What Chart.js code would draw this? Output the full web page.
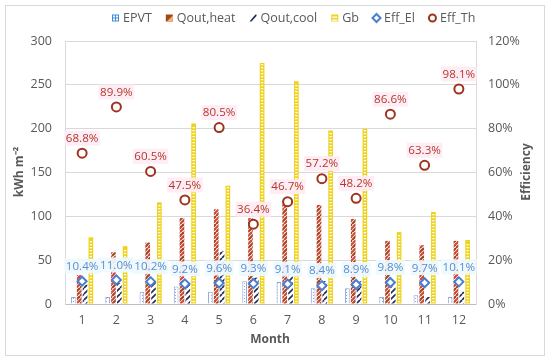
<!DOCTYPE html>
<html><head><meta charset="utf-8">
<script src="https://cdn.jsdelivr.net/npm/chart.js@4/dist/chart.umd.min.js"></script>
<style>html,body{margin:0;padding:0;background:#fff}#wrap{width:550px;height:361px}</style>
</head><body><div id="wrap"><canvas id="c" width="550" height="361"></canvas></div>
<script>
const months = ['1','2','3','4','5','6','7','8','9','10','11','12'];
const epvt = [8, 8, 14, 20, 14, 26, 25, 18, 18, 8, 10, 8];
const qoutHeat = [33, 59, 70, 98, 108, 98, 118, 113, 97, 72, 67, 72];
const qoutCool = [22, 24, 26, 26, 60, 30, 34, 26, 26, 20, 8, 14];
const gb = [76, 66, 116, 206, 135, 275, 254, 198, 200, 82, 105, 73];
const effEl = [10.4, 11.0, 10.2, 9.2, 9.6, 9.3, 9.1, 8.4, 8.9, 9.8, 9.7, 10.1];
const effTh = [68.8, 89.9, 60.5, 47.5, 80.5, 36.4, 46.7, 57.2, 48.2, 86.6, 63.3, 98.1];
const leftTicks = [0, 50, 100, 150, 200, 250, 300];
const rightTicks = [0, 20, 40, 60, 80, 100, 120];

const FONT = "'Open Sans', sans-serif";
const GRAY = '#595959';

function makePattern(w, h, draw) {
  const c = document.createElement('canvas'); c.width = w; c.height = h;
  const g = c.getContext('2d'); draw(g); return g.createPattern(c, 'repeat');
}
const epvtPat = makePattern(3, 3, g => { g.fillStyle = '#fff'; g.fillRect(0,0,3,3); g.fillStyle = '#8EA9DB'; g.fillRect(1,1,1,1); });
const heatPat = makePattern(8, 8, g => {
  g.fillStyle = '#fff'; g.fillRect(0,0,8,8); g.lineWidth = 2.2;
  [[-8,'#9C4A1A'],[0,'#9C4A1A'],[8,'#9C4A1A'],[-4,'#D8403A'],[4,'#D8403A'],[12,'#D8403A']].forEach(([o,col]) => {
    g.strokeStyle = col; g.beginPath(); g.moveTo(o, 8); g.lineTo(o + 8, 0); g.stroke();
  });
});
const coolPat = makePattern(6, 6, g => {
  g.fillStyle = '#fff'; g.fillRect(0,0,6,6); g.lineWidth = 1.6; g.strokeStyle = '#1F2A5C';
  [-6,0,6].forEach(o => { g.beginPath(); g.moveTo(o, 6); g.lineTo(o + 6, 0); g.stroke(); });
});

const data = {
  labels: months,
  datasets: [
    { type:'line', label:'Eff_El', data: effEl, yAxisID:'y2', showLine:false, order:0,
      pointStyle:'rectRot', pointRadius:4.5, pointHoverRadius:4.5, pointBorderWidth:2,
      pointBorderColor:'#4A7FD0', pointBackgroundColor:'#fff', borderColor:'#4A7FD0', backgroundColor:'#fff' },
    { type:'line', label:'Eff_Th', data: effTh, yAxisID:'y2', showLine:false, order:0,
      pointStyle:'circle', pointRadius:4.5, pointHoverRadius:4.5, pointBorderWidth:2,
      pointBorderColor:'#9E3420', pointBackgroundColor:'#fff', borderColor:'#9E3420', backgroundColor:'#fff' },
    { type:'bar', label:'EPVT', data: epvt, yAxisID:'y', order:1, backgroundColor: epvtPat, borderColor:'#8FA3DC', borderWidth:1 },
    { type:'bar', label:'Qout,heat', data: qoutHeat, yAxisID:'y', order:1, backgroundColor: heatPat, borderColor:'#C0504D', borderWidth:0 },
    { type:'bar', label:'Qout,cool', data: qoutCool, yAxisID:'y', order:1, backgroundColor: coolPat, borderColor:'#1F2A5C', borderWidth:0 },
    { type:'bar', label:'Gb', data: gb, yAxisID:'y', order:1, backgroundColor:'#EFD31A', borderWidth:0 }
  ]
};

const PAD = {left: 8, right: 8, top: 41, bottom: 10};
const PLOT_L = 65, PLOT_R = 476, PLOT_B = 304;

const decor = {
  id: 'decor',
  beforeDraw(chart) {
    const c = chart.ctx; c.save();
    c.fillStyle = '#fff'; c.fillRect(0,0,chart.width,chart.height);
    c.strokeStyle = '#D9D9D9'; c.lineWidth = 1; c.strokeRect(5.5, 5.5, 539, 350);
    c.restore();
  },
  afterDatasetsDraw(chart) {
    const c = chart.ctx; c.save();
    const gbIdx = chart.data.datasets.findIndex(d => d.label === 'Gb');
    chart.getDatasetMeta(gbIdx).data.forEach(el => {
      const w = el.width, x0 = el.x - w/2;
      c.fillStyle = '#fff';
      for (let y = el.base - 2.5; y > el.y + 1; y -= 3) c.fillRect(x0 + 1.2, y, w - 2.4, 1.3);
    });
    c.font = "11.6px " + FONT; c.textAlign = 'center'; c.textBaseline = 'middle';
    [['Eff_El', '#5B8BD3', 'rgba(238,250,255,0.92)'], ['Eff_Th', '#B2382C', 'rgba(255,236,244,0.92)']].forEach(([lab, col, bg]) => {
      const i = chart.data.datasets.findIndex(d => d.label === lab);
      const ds = chart.data.datasets[i];
      chart.getDatasetMeta(i).data.forEach((pt, j) => {
        const txt = ds.data[j].toFixed(1) + '%';
        const w = c.measureText(txt).width;
        const y = pt.y - 15;
        c.fillStyle = bg; c.fillRect(pt.x - w/2 - 1.5, y - 7.5, w + 3, 15);
        c.fillStyle = col; c.fillText(txt, pt.x, y + 0.5);
      });
    });
    c.restore();
  },
  afterDraw(chart) {
    const c = chart.ctx; c.save();
    c.fillStyle = GRAY; c.font = "bold 12px " + FONT; c.textAlign = 'center'; c.textBaseline = 'middle';
    c.fillText('Month', 270, 340);
    c.save(); c.translate(20, 172); c.rotate(-Math.PI/2); c.fillText('kWh m\u207B\u00B2', 0, 0); c.restore();
    c.save(); c.translate(527, 172); c.rotate(-Math.PI/2); c.fillText('Efficiency', 0, 0); c.restore();
    c.font = "12.5px " + FONT; c.textBaseline = 'middle'; c.textAlign = 'left';
    const items = [
      ['EPVT', 'epvt'], ['Qout,heat', 'heat'], ['Qout,cool', 'cool'], ['Gb', 'gb'], ['Eff_El', 'el'], ['Eff_Th', 'th']
    ];
    let x = 112; const ly = 18;
    items.forEach(([t, k]) => {
      if (k === 'epvt') { c.fillStyle = '#3C8DD8'; c.fillRect(x, ly-3.5, 7, 7); c.fillStyle='#fff'; c.fillRect(x+1,ly-2.5,2,2); c.fillRect(x+4,ly-2.5,2,2); c.fillRect(x+1,ly+0.5,2,2); c.fillRect(x+4,ly+0.5,2,2); }
      else if (k === 'heat') { c.fillStyle = '#9C4A1A'; c.fillRect(x, ly-3.5, 7, 7); c.fillStyle='#F4B183'; c.beginPath(); c.moveTo(x+1,ly+3.5); c.lineTo(x+7,ly-2.5); c.lineTo(x+7,ly+3.5); c.fill(); }
      else if (k === 'cool') { c.fillStyle = '#fff'; c.fillRect(x, ly-3.5, 7, 7); c.fillStyle='#1F2A5C'; c.beginPath(); c.moveTo(x,ly+3.5); c.lineTo(x+6,ly-3.5); c.lineTo(x+7,ly-3.5); c.lineTo(x+7,ly-2); c.lineTo(x+2,ly+3.5); c.fill(); }
      else if (k === 'gb') { c.fillStyle = '#EFD31A'; c.fillRect(x, ly-3.5, 7, 7); c.fillStyle='#fff'; c.fillRect(x+1, ly-1.5, 5, 1.3); c.fillRect(x+1, ly+1.5, 5, 1.3); }
      else if (k === 'el') { c.strokeStyle = '#4A7FD0'; c.lineWidth = 2; c.beginPath(); c.moveTo(x+3.5,ly-4); c.lineTo(x+7.5,ly); c.lineTo(x+3.5,ly+4); c.lineTo(x-0.5,ly); c.closePath(); c.stroke(); }
      else if (k === 'th') { c.strokeStyle = '#9E3420'; c.lineWidth = 2; c.beginPath(); c.arc(x+3.5, ly, 3.5, 0, Math.PI*2); c.stroke(); }
      x += 11; c.fillStyle = GRAY; c.fillText(t, x, ly); x += c.measureText(t).width + 14;
    });
    c.restore();
  }
};

function build() {
  new Chart(document.getElementById('c'), {
    data,
    options: {
      responsive: false, animation: false, devicePixelRatio: 1,
      layout: { padding: PAD },
      plugins: { legend: { display: false }, tooltip: { enabled: false } },
      datasets: { bar: { categoryPercentage: 0.68, barPercentage: 0.8 } },
      scales: {
        x: {
          grid: { display: false, drawTicks: false }, border: { color: '#BFBFBF' },
          ticks: { color: GRAY, font: { family: FONT, size: 12.5 }, padding: 9 },
          afterFit(s) { s.height = 361 - PAD.bottom - PLOT_B; }
        },
        y: {
          position: 'left', min: 0, max: 300,
          afterBuildTicks(s) { s.ticks = leftTicks.map(v => ({ value: v })); },
          grid: { color: '#D9D9D9', drawTicks: false }, border: { color: '#D9D9D9' },
          ticks: { color: GRAY, font: { family: FONT, size: 12.5 }, padding: 13 },
          afterFit(s) { s.width = PLOT_L - PAD.left; }
        },
        y2: {
          position: 'right', min: 0, max: 120,
          afterBuildTicks(s) { s.ticks = rightTicks.map(v => ({ value: v })); },
          grid: { display: false, drawTicks: false }, border: { color: '#D9D9D9' },
          ticks: { color: GRAY, font: { family: FONT, size: 12.5 }, padding: 12, callback: v => v + '%' },
          afterFit(s) { s.width = 550 - PAD.right - PLOT_R; }
        }
      }
    },
    plugins: [decor]
  });
}
Promise.all([
  document.fonts.load("12.5px 'Open Sans'"),
  document.fonts.load("bold 12px 'Open Sans'")
]).then(build, build);
</script></body></html>
